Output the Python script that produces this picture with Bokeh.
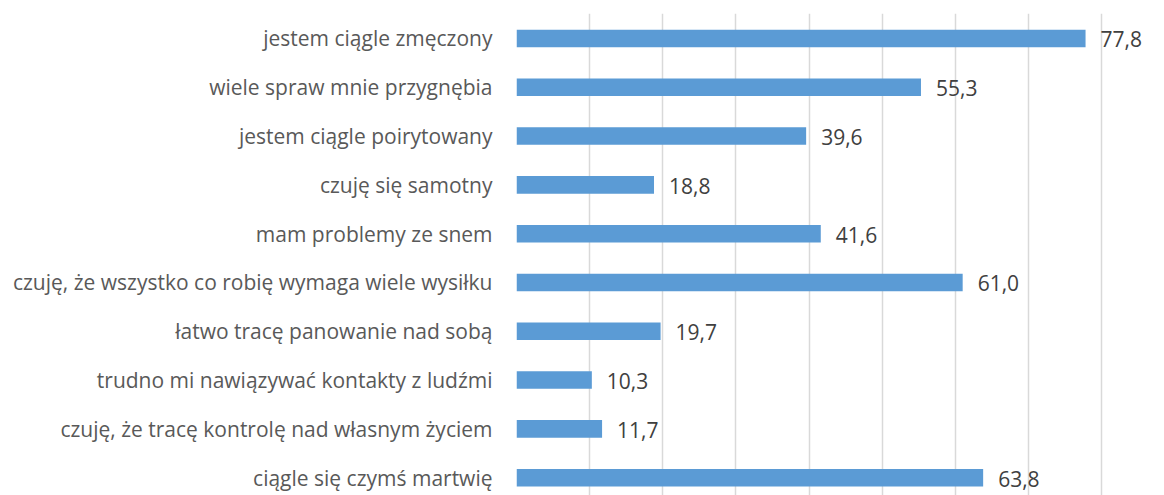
from bokeh.plotting import figure
from bokeh.models import ColumnDataSource, LabelSet, Range1d, FixedTicker
from bokeh.core.properties import value
from bokeh.embed import file_html
from bokeh.resources import INLINE

categories = [
    "jestem ciągle zmęczony",
    "wiele spraw mnie przygnębia",
    "jestem ciągle poirytowany",
    "czuję się samotny",
    "mam problemy ze snem",
    "czuję, że wszystko co robię wymaga wiele wysiłku",
    "łatwo tracę panowanie nad sobą",
    "trudno mi nawiązywać kontakty z ludźmi",
    "czuję, że tracę kontrolę nad własnym życiem",
    "ciągle się czymś martwię",
]
values = [77.8, 55.3, 39.6, 18.8, 41.6, 61.0, 19.7, 10.3, 11.7, 63.8]
grid_ticks = [0, 10, 20, 30, 40, 50, 60, 70, 80]

idx = list(range(len(categories)))
labels = [f"{v:.1f}".replace(".", ",") for v in values]
src = ColumnDataSource(dict(y=idx, v=values, lab=labels))

FONT = "Open Sans"

p = figure(width=1156, height=495, output_backend="svg", toolbar_location=None,
           x_range=Range1d(0, 87.5), y_range=Range1d(9.365, -0.512),
           x_axis_location=None, min_border_left=516, min_border_top=13,
           min_border_bottom=0, min_border_right=0)
p.outline_line_color = None
p.background_fill_color = "white"

p.hbar(y="y", right="v", left=0, height=0.36, source=src,
       fill_color="#5B9BD5", line_color=None)

p.xgrid.ticker = FixedTicker(ticks=grid_ticks)
p.xgrid.grid_line_color = "#D9D9D9"
p.xgrid.grid_line_width = 1.5
p.ygrid.grid_line_color = None

yax = p.yaxis[0]
yax.ticker = FixedTicker(ticks=idx)
yax.major_label_overrides = {i: c for i, c in enumerate(categories)}
yax.axis_line_color = None
yax.major_tick_line_color = None
yax.minor_tick_line_color = None
yax.major_tick_out = 0
yax.major_tick_in = 0
yax.major_label_standoff = 24
yax.major_label_text_font = FONT
yax.major_label_text_font_size = "21px"
yax.major_label_text_color = "#595959"

p.add_layout(LabelSet(x="v", y="y", text="lab", source=src, x_offset=15,
                      y_offset=-1,
                      text_baseline="middle", text_align="left",
                      text_font=value(FONT), text_font_size="21px",
                      text_color="#404040"))

open("out.html", "w").write(file_html(p, INLINE))
